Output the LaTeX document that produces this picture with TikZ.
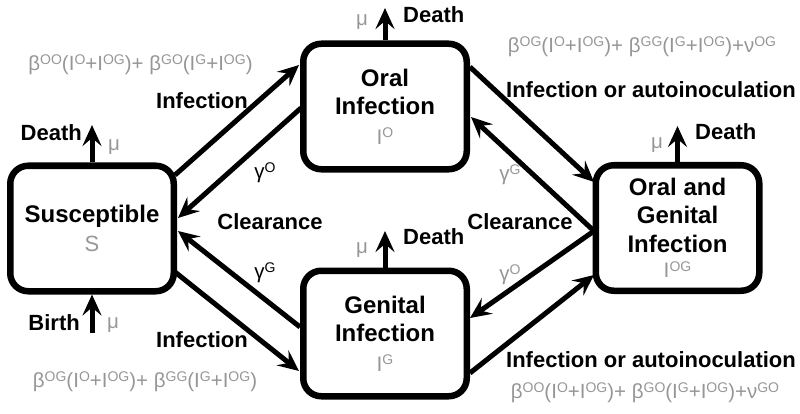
\documentclass[tikz,border=0pt]{standalone}
\usepackage{fontspec}
\setmainfont{Liberation Sans}
\usetikzlibrary{arrows.meta,calc}
\definecolor{txtgray}{RGB}{150,150,150}
\newcommand\spx[1]{\raisebox{0.3em}{\fontsize{14}{14}\selectfont #1}}
\begin{document}
\begin{tikzpicture}[x=1pt,y=1pt,
  box/.style={draw, line width=6.5pt, rounded corners=18pt, minimum width=163.5pt, minimum height=125.5pt, inner sep=0pt, align=center, font=\fontsize{24}{28.5}\selectfont\bfseries},
  flow/.style={line width=5pt, -{Stealth[length=21pt,width=19pt,inset=8pt]}},
  lbl/.style={font=\fontsize{22}{26}\selectfont\bfseries, inner sep=0pt},
  par/.style={text=txtgray, font=\fontsize{20.5}{24}\selectfont, inner sep=0pt},
]
\useasboundingbox (0,0) rectangle (800,413);

% boxes
\node[box] (S) at (92,184.5) {Susceptible\\[1pt]{\fontsize{22}{28.5}\selectfont\mdseries\color{txtgray}S}};
\node[box] (O) at (385,306.5) {Oral\\Infection\\[1pt]{\fontsize{21}{28.5}\selectfont\mdseries\color{txtgray}I\spx{O}}};
\node[box] (G) at (385,79.5) {Genital\\Infection\\[1pt]{\fontsize{21}{28.5}\selectfont\mdseries\color{txtgray}I\spx{G}}};
\node[box] (OG) at (677.5,185) {Oral and\\Genital\\Infection\\[-3pt]{\fontsize{21}{28.5}\selectfont\mdseries\color{txtgray}I\spx{OG}}};

% transitions
\draw[flow] ($(S.east)+(-2,53.5)$) -- ($(O.west)+(-1,41.5)$);
\draw[flow] ($(O.west)+(1,-1.5)$) -- ($(S.east)+(1,10.5)$);
\draw[flow] ($(G.west)+(0,6.5)$) -- ($(S.east)+(1,-2.5)$);
\draw[flow] ($(S.east)+(-2,-43.5)$) -- ($(G.west)+(-1,-37.5)$);
\draw[flow] ($(O.east)+(0,39.5)$) -- ($(OG.west)+(1.5,46)$);
\draw[flow] ($(OG.west)+(1.5,-3)$) -- ($(O.east)+(1,-10.5)$);
\draw[flow] ($(OG.west)+(1.5,-3)$) -- ($(G.east)+(0,15.5)$);
\draw[flow] ($(G.east)+(0,-39.5)$) -- ($(OG.west)+(1.5,-47)$);

% death / birth
\coordinate (dS) at (92,288);
\coordinate (dO) at (385,405);
\coordinate (dG) at (385,182);
\coordinate (dOG) at (677.5,287);
\coordinate (bS) at (92,80);
\draw[flow] (S.north) -- (dS);
\draw[flow] (O.north) -- (dO);
\draw[flow] (G.north) -- (dG);
\draw[flow] (OG.north) -- (dOG);
\draw[flow] (bS) -- (S.south);

\node[lbl, anchor=east] (tdS) at (82,280) {Death};
\node[par] (mS) at (114,266) {μ};
\node[lbl, anchor=west] (tdO) at (403,398) {Death};
\node[par] (mO) at (362,391) {μ};
\node[lbl, anchor=west] (tdG) at (403,176) {Death};
\node[par] (mG) at (362,163) {μ};
\node[lbl, anchor=west] (tdOG) at (695,281) {Death};
\node[par] (mOG) at (657,268) {μ};
\node[lbl, anchor=east] (tbS) at (80,90) {Birth};
\node[par] (mB) at (113,88) {μ};

% flow labels
\node[lbl] (inf1) at (202,312) {Infection};
\node[lbl] (inf2) at (202,73) {Infection};
\node[lbl] (clr1) at (270,191) {Clearance};
\node[lbl] (clr2) at (520,191) {Clearance};
\node[lbl] (ioa1) at (651,323) {Infection or autoinoculation};
\node[lbl] (ioa2) at (651,53) {Infection or autoinoculation};

\node[par, text=black] (g1) at (265,240) {γ\spx{O}};
\node[par, text=black] (g2) at (265,140) {γ\spx{G}};
\node[par] (g3) at (510,238) {γ\spx{G}};
\node[par] (g4) at (510,138) {γ\spx{O}};

% rates
\node[par] (r1) at (140.5,348) {β\spx{OO}(I\spx{O}+I\spx{OG})+ β\spx{GO}(I\spx{G}+I\spx{OG})};
\node[par] (r2) at (145,31) {β\spx{OG}(I\spx{O}+I\spx{OG})+ β\spx{GG}(I\spx{G}+I\spx{OG})};
\node[par] (r3) at (642,366) {β\spx{OG}(I\spx{O}+I\spx{OG})+ β\spx{GG}(I\spx{G}+I\spx{OG})+ν\spx{OG}};
\node[par] (r4) at (645,20) {β\spx{OO}(I\spx{O}+I\spx{OG})+ β\spx{GO}(I\spx{G}+I\spx{OG})+ν\spx{GO}};
\end{tikzpicture}
\end{document}
